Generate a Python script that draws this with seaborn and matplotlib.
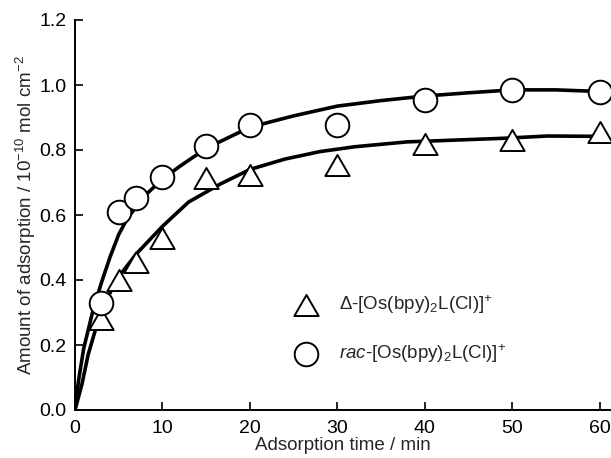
import matplotlib
matplotlib.use("Agg")
import matplotlib.pyplot as plt
from matplotlib.path import Path
import seaborn as sns
import pandas as pd

# --- measured points ---
time_pts = [3, 5, 7, 10, 15, 20, 30, 40, 50, 60]
delta_amt = [0.28, 0.40, 0.455, 0.53, 0.713, 0.723, 0.754, 0.818, 0.831, 0.856]
rac_amt = [0.328, 0.608, 0.653, 0.718, 0.812, 0.877, 0.877, 0.954, 0.985, 0.979]

# --- fitted curves ---
rac_fit_t = [0, 0.4, 1, 2, 3, 4, 5, 6, 8, 10, 12, 15, 20, 25, 30, 35, 40, 45, 50, 55, 60]
rac_fit_y = [0, 0.09, 0.19, 0.30, 0.39, 0.47, 0.54, 0.59, 0.66, 0.71, 0.75, 0.805,
             0.87, 0.905, 0.935, 0.952, 0.966, 0.976, 0.985, 0.985, 0.98]
delta_fit_t = [0, 0.8, 1.5, 2.7, 4, 5, 7, 10, 13, 16.6, 20, 24, 28, 32, 38, 44, 49, 54, 60]
delta_fit_y = [0, 0.08, 0.17, 0.28, 0.36, 0.41, 0.48, 0.565, 0.64, 0.695, 0.74, 0.772,
               0.795, 0.81, 0.825, 0.831, 0.836, 0.843, 0.842]

label_delta = r"$\Delta$-[Os(bpy)$_2$L(Cl)]$^{+}$"
label_rac = r"$\it{rac}$-[Os(bpy)$_2$L(Cl)]$^{+}$"

sns.set_style("ticks")
plt.rcParams['font.family'] = ['Liberation Sans', 'DejaVu Sans']
plt.rcParams['mathtext.fontset'] = 'custom'
plt.rcParams['mathtext.rm'] = 'Liberation Sans'
plt.rcParams['mathtext.it'] = 'Liberation Sans:italic'
plt.rcParams['mathtext.sf'] = 'Liberation Sans'

fig = plt.figure(figsize=(6.11, 4.58), dpi=100)
ax = fig.add_axes([75 / 611, 48 / 458, 535 / 611, 390 / 458])

pts = pd.DataFrame({'t': time_pts, 'delta': delta_amt, 'rac': rac_amt})
fit_rac = pd.DataFrame({'t': rac_fit_t, 'y': rac_fit_y})
fit_delta = pd.DataFrame({'t': delta_fit_t, 'y': delta_fit_y})

sns.lineplot(data=fit_rac, x='t', y='y', color='black', lw=2.6, ax=ax, zorder=2)
sns.lineplot(data=fit_delta, x='t', y='y', color='black', lw=2.6, ax=ax, zorder=2)

# equilateral triangle, closed outline
tri = Path([(-1, -0.866), (1, -0.866), (0, 0.866), (-1, -0.866)], closed=True)
sns.scatterplot(data=pts, x='t', y='delta', marker=tri, s=17.5 ** 2, facecolor='white',
                edgecolor='black', linewidth=1.4, ax=ax, zorder=3, label=label_delta)
sns.scatterplot(data=pts, x='t', y='rac', marker='o', s=17 ** 2, facecolor='white',
                edgecolor='black', linewidth=1.4, ax=ax, zorder=4, label=label_rac)

ax.set_xlim(0, 61.2)
ax.set_ylim(0, 1.2)
ax.set_xticks([0, 10, 20, 30, 40, 50, 60])
ax.set_yticks([0.0, 0.2, 0.4, 0.6, 0.8, 1.0, 1.2])
ax.set_yticklabels(['0.0', '0.2', '0.4', '0.6', '0.8', '1.0', '1.2'])
ax.tick_params(direction='in', length=6, width=1.2, labelsize=14, colors='black')
ax.tick_params(axis='x', pad=7.5)
ax.tick_params(axis='y', pad=6)
for s in ['top', 'right']:
    ax.spines[s].set_visible(False)
for s in ['left', 'bottom']:
    ax.spines[s].set_linewidth(1.4)
    ax.spines[s].set_color('black')

ax.set_xlabel('Adsorption time / min', fontsize=13.5, labelpad=0)
ax.set_ylabel(r'Amount of adsorption / 10$^{-10}$ mol cm$^{-2}$', fontsize=13.5, labelpad=1)

ax.legend(loc='upper left', bbox_to_anchor=(0.41, 0.30), frameon=False, fontsize=13.5,
          handlelength=1.2, handletextpad=1.2, labelspacing=1.4, borderpad=0,
          borderaxespad=0)

fig.savefig('out.png', dpi=100)
